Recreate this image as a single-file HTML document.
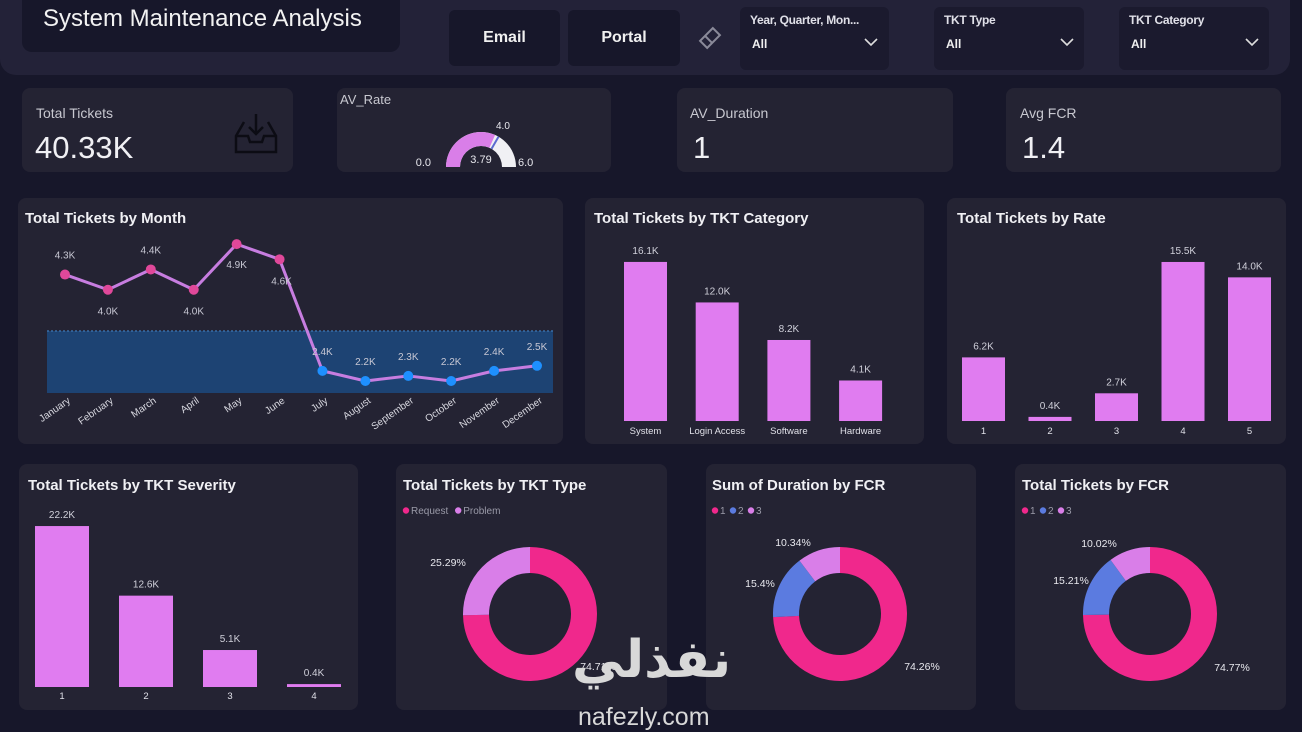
<!DOCTYPE html>
<html><head><meta charset="utf-8">
<style>
*{margin:0;padding:0;box-sizing:border-box}
body{width:1302px;height:732px;background:#17172a;font-family:"Liberation Sans",sans-serif;color:#e8e8ee;position:relative;overflow:hidden}
.abs{position:absolute}
.card{position:absolute;background:#242333;border-radius:8px}
.btn{position:absolute;background:#17172a;border-radius:6px;font-weight:bold;font-size:16px;display:flex;align-items:center;justify-content:center;color:#f0f0f0}
.sl{position:absolute;background:#1b1a2e;border-radius:6px}
.sl .t{position:absolute;left:10px;top:6px;font-size:12px;font-weight:bold;color:#e0e0e8;letter-spacing:-0.3px}
.sl .v{position:absolute;left:12px;top:30px;font-size:12px;font-weight:bold;color:#f0f0f0}
.kl{position:absolute;font-size:14px;color:#c8c8d0}
.kv{position:absolute;font-size:31px;color:#f0f0f4}
svg text{font-family:"Liberation Sans",sans-serif}
</style></head><body>
<div class="abs" style="left:0;top:0;width:1290px;height:75px;background:#232238;border-radius:0 0 16px 16px"></div>
<div class="abs" style="left:22px;top:0;width:378px;height:52px;background:#17172a;border-radius:0 0 10px 10px"></div>
<div class="abs" style="left:43px;top:5px;font-size:24px;color:#f2f2f2">System Maintenance Analysis</div>
<div class="btn" style="left:449px;top:10px;width:111px;height:56px">Email</div>
<div class="btn" style="left:568px;top:10px;width:112px;height:56px">Portal</div>
<svg class="abs" style="left:697px;top:25px" width="26" height="26" viewBox="0 0 26 26"><g transform="rotate(-45 13 13)" fill="none" stroke="#8a8a99" stroke-width="2"><rect x="4" y="8" width="18" height="10"/><line x1="11" y1="8" x2="11" y2="18"/></g></svg>
<div class="sl" style="left:740px;top:7px;width:149px;height:63px"><div class="t">Year, Quarter, Mon...</div><div class="v">All</div><svg class="abs" style="left:124px;top:30px" width="14" height="10"><polyline points="1,2 7,8 13,2" fill="none" stroke="#ddd" stroke-width="1.6"/></svg></div>
<div class="sl" style="left:934px;top:7px;width:150px;height:63px"><div class="t">TKT Type</div><div class="v">All</div><svg class="abs" style="left:126px;top:30px" width="14" height="10"><polyline points="1,2 7,8 13,2" fill="none" stroke="#ddd" stroke-width="1.6"/></svg></div>
<div class="sl" style="left:1119px;top:7px;width:150px;height:63px"><div class="t">TKT Category</div><div class="v">All</div><svg class="abs" style="left:126px;top:30px" width="14" height="10"><polyline points="1,2 7,8 13,2" fill="none" stroke="#ddd" stroke-width="1.6"/></svg></div>

<div class="card" style="left:22px;top:88px;width:271px;height:84px"><div class="kl" style="left:14px;top:17px">Total Tickets</div><div class="kv" style="left:13px;top:42px">40.33K</div>
<svg class="abs" style="left:208px;top:22px" width="52" height="48" viewBox="0 0 52 48"><g fill="none" stroke="#0c0c14" stroke-width="2.5"><path d="M14 12 L6 26 L6 42 L46 42 L46 26 L38 12"/><path d="M6 26 L18 26 L20 32 L32 32 L34 26 L46 26"/><path d="M26 4 L26 24 M19 17 L26 24 L33 17"/></g></svg></div>
<div class="card" style="left:337px;top:88px;width:274px;height:84px"><div class="kl" style="left:3px;top:4px;font-size:13px">AV_Rate</div></div>
<svg class="abs" style="left:337px;top:88px" width="274" height="84" id="gauge"></svg>
<div class="card" style="left:677px;top:88px;width:276px;height:84px"><div class="kl" style="left:13px;top:17px">AV_Duration</div><div class="kv" style="left:16px;top:42px">1</div></div>
<div class="card" style="left:1006px;top:88px;width:275px;height:84px"><div class="kl" style="left:14px;top:17px">Avg FCR</div><div class="kv" style="left:16px;top:42px">1.4</div></div>

<div class="card" style="left:18px;top:198px;width:545px;height:246px"></div>
<div class="card" style="left:585px;top:198px;width:339px;height:246px"></div>
<div class="card" style="left:947px;top:198px;width:339px;height:246px"></div>
<div class="card" style="left:19px;top:464px;width:339px;height:246px"></div>
<div class="card" style="left:396px;top:464px;width:271px;height:246px"></div>
<div class="card" style="left:706px;top:464px;width:270px;height:246px"></div>
<div class="card" style="left:1015px;top:464px;width:271px;height:246px"></div>

<svg class="abs" id="charts" style="left:0;top:0" width="1302" height="732"></svg>

<div class="abs" style="left:572px;top:630px;font-family:'DejaVu Sans',sans-serif;font-size:52px;font-weight:bold;color:#d8d8d8;line-height:60px">نفذلي</div>
<div class="abs" style="left:578px;top:703px;font-size:25px;color:#d8d8d8">nafezly.com</div>

<script>
const months=["January","February","March","April","May","June","July","August","September","October","November","December"];
const monthVals=[4.3,4.0,4.4,4.0,4.9,4.6,2.4,2.2,2.3,2.2,2.4,2.5];
const monthLabels=["4.3K","4.0K","4.4K","4.0K","4.9K","4.6K","2.4K","2.2K","2.3K","2.2K","2.4K","2.5K"];
const catNames=["System","Login Access","Software","Hardware"];
const catVals=[16.1,12.0,8.2,4.1];
const rateNames=["1","2","3","4","5"];
const rateVals=[6.2,0.4,2.7,15.5,14.0];
const sevNames=["1","2","3","4"];
const sevVals=[22.2,12.6,5.1,0.4];
const typeNames=["Request","Problem"];
const typeVals=[74.71,25.29];
const durNames=["1","2","3"];
const durVals=[74.26,15.4,10.34];
const fcrNames=["1","2","3"];
const fcrVals=[74.77,15.21,10.02];
const gaugeVal=3.79, gaugeTarget=4.0, gaugeMax=6.0;

const NS="http://www.w3.org/2000/svg";
const svg=document.getElementById('charts');
function el(tag,attrs,parent,txt){const e=document.createElementNS(NS,tag);for(const k in attrs)e.setAttribute(k,attrs[k]);if(txt!==undefined)e.textContent=txt;(parent||svg).appendChild(e);return e;}
function title(x,y,t,name){const e=el('text',{x:x,y:y,'font-size':15,'font-weight':'bold',fill:'#f0f0f4'},svg,t);

}
function fmt(v){return v.toFixed(1)+'K';}

// Month chart
title(25,223,'Total Tickets by Month','month-chart-title');
const band=el('rect',{x:47,y:331,width:506,height:62,fill:'#1d4373'});


el('line',{x1:47,y1:331,x2:553,y2:331,stroke:'#3a6ea8','stroke-dasharray':'2,2','stroke-width':1.5});
const mx=i=>65+i*(537-65)/(months.length-1);
const my=v=>381-(v-2.2)*50.7;
let pts=monthVals.map((v,i)=>mx(i)+','+my(v)).join(' ');
const ln=el('polyline',{points:pts,fill:'none',stroke:'#c77de0','stroke-width':3,'stroke-linejoin':'round'});


monthVals.forEach((v,i)=>{
 const c=el('circle',{cx:mx(i),cy:my(v),r:5,fill:i<6?'#e0489a':'#1e90ff'});
 
 
 const below=(i===1||i===3||i===4||i===5);
 const ty=below?my(v)+(i===4?24:25):my(v)-16;
 el('text',{x:mx(i)+(i===5?2:0),y:ty,'font-size':10,fill:'#c8c8d4','text-anchor':'middle'},svg,monthLabels[i]);
 el('text',{x:mx(i)+6,y:402,'font-size':10,fill:'#d8d8e0','text-anchor':'end',transform:`rotate(-35 ${mx(i)+6} 402)`},svg,months[i]);
});

// Bar helper
function bars(names,vals,x0,step,w,base,scale,lblY,name){
 vals.forEach((v,i)=>{const x=x0+i*step,h=v*scale;
  const r=el('rect',{x:x,y:base-h,width:w,height:h,fill:'#e07cf0'});
  
  
  el('text',{x:x+w/2,y:base-h-8,'font-size':10,fill:'#d0d0da','text-anchor':'middle'},svg,fmt(v));
  el('text',{x:x+w/2,y:lblY,'font-size':9.5,fill:'#e0e0e8','text-anchor':'middle'},svg,names[i]);
 });
}
title(594,223,'Total Tickets by TKT Category','category-chart-title');
bars(catNames,catVals,624,71.7,43,421,9.88,434,'category');
title(957,223,'Total Tickets by Rate','rate-chart-title');
bars(rateNames,rateVals,962,66.5,43,421,10.26,434,'rate');
title(28,490,'Total Tickets by TKT Severity','severity-chart-title');
bars(sevNames,sevVals,35,84,54,687,7.25,699,'severity');

// Donuts
function donut(cx,cy,vals,cols,labelPos,name){
 const R=67,r=41,tot=vals.reduce((a,b)=>a+b,0);let a=-Math.PI/2;
 vals.forEach((v,i)=>{const a2=a+v/tot*2*Math.PI,large=(a2-a)>Math.PI?1:0;
  const p=(rad,ang)=>[cx+rad*Math.cos(ang),cy+rad*Math.sin(ang)];
  const [x1,y1]=p(R,a),[x2,y2]=p(R,a2),[x3,y3]=p(r,a2),[x4,y4]=p(r,a);
  const s=el('path',{d:`M${x1},${y1}A${R},${R} 0 ${large} 1 ${x2},${y2}L${x3},${y3}A${r},${r} 0 ${large} 0 ${x4},${y4}Z`,fill:cols[i]});
  
  
  a=a2;
 });
 vals.forEach((v,i)=>{const lp=labelPos[i];el('text',{x:lp[0],y:lp[1],'font-size':10.5,fill:'#e8e8ee','text-anchor':'middle'},svg,v+'%');});
}
function legend(x,y,names,cols){let cx=x;names.forEach((n,i)=>{el('circle',{cx:cx+3,cy:y-3.5,r:3.2,fill:cols[i]});el('text',{x:cx+8,y:y,'font-size':10,fill:'#9a9aa8'},svg,n);cx+=8+n.length*(n.length>1?5.6:5)+5;});}
const pink='#f0288c',vio='#d97ee8',blue='#5b7be0';
title(403,490,'Total Tickets by TKT Type','type-chart-title');
legend(403,514,typeNames,[pink,vio]);
donut(530,614,typeVals,[pink,vio],[[598,670],[448,566]],'type');
title(712,490,'Sum of Duration by FCR','duration-fcr-title');
legend(712,514,durNames,[pink,blue,vio]);
donut(840,614,durVals,[pink,blue,vio],[[922,670],[760,587],[793,546]],'duration-fcr');
title(1022,490,'Total Tickets by FCR','tickets-fcr-title');
legend(1022,514,fcrNames,[pink,blue,vio]);
donut(1150,614,fcrVals,[pink,blue,vio],[[1232,671],[1071,584],[1099,547]],'tickets-fcr');

// Gauge
const g=document.getElementById('gauge');
(function(){const cx=144,cy=79,R=35,r=21;
 function arc(f0,f1,col){const a0=Math.PI*(1+f0),a1=Math.PI*(1+f1);
  const p=(rad,ang)=>[cx+rad*Math.cos(ang),cy+rad*Math.sin(ang)];
  const [x1,y1]=p(R,a0),[x2,y2]=p(R,a1),[x3,y3]=p(r,a1),[x4,y4]=p(r,a0);
  const e=el('path',{d:`M${x1},${y1}A${R},${R} 0 0 1 ${x2},${y2}L${x3},${y3}A${r},${r} 0 0 0 ${x4},${y4}Z`,fill:col},g);return e;}
 arc(0,1,'#f0f0f4');
 const f=arc(0,gaugeVal/gaugeMax,'#d97ee8');
 
 
 const t=Math.PI*(1+gaugeTarget/gaugeMax);
 el('line',{x1:cx+r*Math.cos(t),y1:cy+r*Math.sin(t),x2:cx+R*Math.cos(t),y2:cy+R*Math.sin(t),stroke:'#5b6bd0','stroke-width':2},g);
 el('text',{x:cx,y:75,'font-size':11,fill:'#e8e8ee','text-anchor':'middle'},g,gaugeVal.toFixed(2));
 el('text',{x:94,y:78,'font-size':11,fill:'#e8e8ee','text-anchor':'end'},g,'0.0');
 el('text',{x:181,y:78,'font-size':11,fill:'#e8e8ee'},g,gaugeMax.toFixed(1));
 el('text',{x:159,y:41,'font-size':10,fill:'#e8e8ee'},g,gaugeTarget.toFixed(1));
})();
</script>
</body></html>
